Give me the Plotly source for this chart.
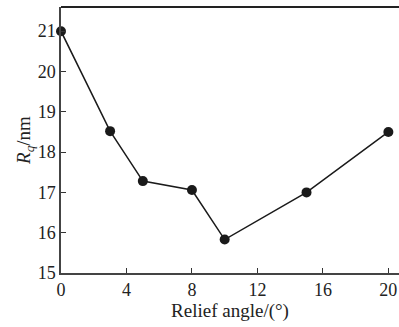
import plotly.graph_objects as go

relief_angle = [0, 3, 5, 8, 10, 15, 20]
rq_nm = [21.0, 18.52, 17.28, 17.06, 15.83, 17.0, 18.5]
x_ticks = [0, 4, 8, 12, 16, 20]
y_ticks = [15, 16, 17, 18, 19, 20, 21]

font_family = "Liberation Serif, Times New Roman, serif"

fig = go.Figure()
fig.add_trace(go.Scatter(
    x=relief_angle, y=rq_nm, mode="lines+markers",
    line=dict(color="#1a1a1a", width=1.5),
    marker=dict(color="#1a1a1a", size=10),
    cliponaxis=False,
))

fig.update_layout(
    width=399, height=327,
    margin=dict(l=61, r=0, t=7, b=54),
    plot_bgcolor="white", paper_bgcolor="white",
    showlegend=False,
    font=dict(family=font_family, size=18, color="#222"),
)
fig.update_xaxes(
    range=[0, 20.65], tickvals=x_ticks, ticks="inside", ticklen=5,
    tickcolor="#333", showline=True, linecolor="#444", linewidth=1.5,
    showgrid=False, zeroline=False,
    title=dict(text="Relief angle/(°)", standoff=2, font=dict(size=19)),
    tickfont=dict(size=18),
)
fig.update_yaxes(
    range=[15, 21.6], tickvals=y_ticks, ticks="inside", ticklen=5,
    tickcolor="#333", showline=True, linecolor="#444", linewidth=1.5,
    showgrid=False, zeroline=False,
    title=dict(text="<i>R<sub>q</sub></i>/nm", standoff=2, font=dict(size=19)),
    tickfont=dict(size=18),
)
fig.add_shape(type="line", xref="paper", yref="paper", x0=0, x1=1, y0=1, y1=1,
              line=dict(color="#222", width=2))

fig.write_html("out.html")
